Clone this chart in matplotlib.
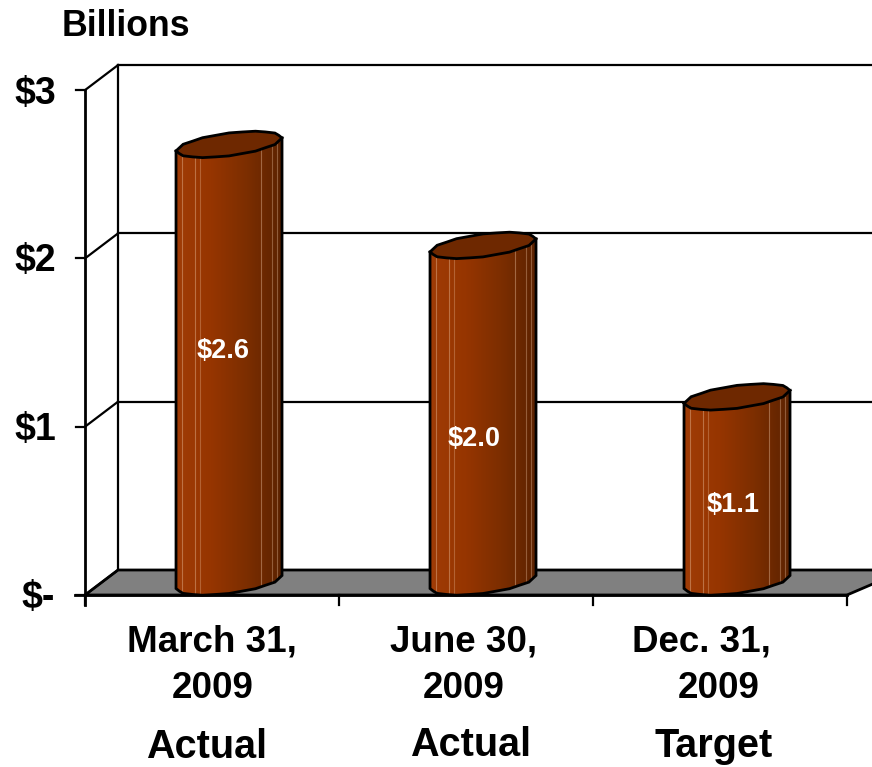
import numpy as np
import matplotlib
matplotlib.use('Agg')
import matplotlib.pyplot as plt
from matplotlib.colors import LinearSegmentedColormap
from matplotlib.patches import Polygon

plt.rcParams['font.family'] = ['Liberation Sans', 'DejaVu Sans']

# data
values = [2.6, 2.0, 1.1]
value_labels = ['$2.6', '$2.0', '$1.1']
y_ticks = [0, 1, 2, 3]
y_labels = ['$-', '$1', '$2', '$3']
x_labels = ['March 31,', 'June 30,', 'Dec. 31,']
x_years = ['2009', '2009', '2009']
x_status = ['Actual', 'Actual', 'Target']

# layout, 1 category = 254 px, 1 billion = 168 px
W, H = 872, 767
PX_X, PX_Y = 254.0, 168.3
X0, Y0 = 85, 595
DEPTH_X, DEPTH_Y = 33 / PX_X, 25 / PX_Y
BAR_POS = 0.567
BAR_HALF = 53 / PX_X
BAR_BASE = 13 / PX_Y
TILT = 6.5 / PX_Y

fig = plt.figure(figsize=(W / 100, H / 100), dpi=100)
ax = fig.add_axes([0, 0, 1, 1])
ax.set_xlim(-X0 / PX_X, (W - X0) / PX_X)
ax.set_ylim(-(H - Y0) / PX_Y, Y0 / PX_Y)
ax.axis('off')

cmap = LinearSegmentedColormap.from_list('bar', ['#a03c06', '#963500', '#7c2e00', '#5c2200'])
top_color = '#6e2800'


def rim(cx, cy, t):
    # wobbly tilted ellipse, same look as the old 3d cylinder
    wob = np.where(np.arange(len(t)) % 2 == 0, 1.0, 0.97)
    xs = cx + BAR_HALF * np.cos(t) * wob
    ys = cy + (11.5 / PX_Y) * np.sin(t) * wob + TILT * np.cos(t)
    return np.column_stack([xs, ys])


# back wall and gridlines
right = (W - X0) / PX_X
for v in y_ticks:
    back = v + DEPTH_Y
    if v > 0:
        ax.plot([DEPTH_X, right + 0.1], [back, back], color='k', lw=1.6, zorder=1)
    ax.plot([0, DEPTH_X], [v, back], color='k', lw=1.6, zorder=3)
    ax.plot([-9 / PX_X, 0], [v, v], color='k', lw=1.6, zorder=3)
ax.plot([DEPTH_X, DEPTH_X], [DEPTH_Y, 3 + DEPTH_Y], color='k', lw=1.6, zorder=1)
ax.plot([0, 0], [-10 / PX_Y, 3], color='k', lw=2, zorder=3)

# floor
floor = Polygon([[0, 0], [DEPTH_X, DEPTH_Y], [3 + DEPTH_X + 0.1, DEPTH_Y], [3.0, 0]],
                closed=True, facecolor='#808080', edgecolor='k', lw=2, zorder=2)
ax.add_patch(floor)
ax.plot([-0.04, 3.0], [0, 0], color='k', lw=2, zorder=3)
for i in range(4):
    ax.plot([i, i], [0, -10 / PX_Y], color='k', lw=1.6, zorder=3)

# bars
for i, v in enumerate(values):
    cx = i + BAR_POS
    top = BAR_BASE + v
    up = rim(cx, top, np.linspace(0, 2 * np.pi, 25)[:-1])
    low = rim(cx, BAR_BASE, np.linspace(2 * np.pi, np.pi, 13))
    body = np.vstack([[cx - BAR_HALF, top - TILT], [cx + BAR_HALF, top + TILT], low])
    # shaded side, drawn as an image clipped to the outline
    grad = np.linspace(0, 1, 256).reshape(1, -1)
    im = ax.imshow(grad, cmap=cmap, aspect='auto', zorder=4,
                   extent=[cx - BAR_HALF, cx + BAR_HALF, -0.01, top + TILT])
    outline = Polygon(body, closed=True, facecolor='none', edgecolor='k', lw=2, zorder=5)
    ax.add_patch(outline)
    im.set_clip_path(outline)
    # the thin light facet lines
    for off, a in [(-47, 0.4), (-34, 0.4), (-29, 0.3), (32, 0.4), (43, 0.35), (48, 0.35)]:
        ln, = ax.plot([cx + off / PX_X] * 2, [0, top], color='#f0c8a8', lw=0.8, alpha=a, zorder=4.5)
        ln.set_clip_path(outline)
    ax.add_patch(Polygon(up, closed=True, facecolor=top_color, edgecolor='k', lw=2, zorder=6))


def px_text(x, y, s, size, color='k', zorder=8):
    fig.text(x / W, 1 - y / H, s, fontsize=size, color=color, fontweight='bold',
             ha='center', va='center', parse_math=False, zorder=zorder)


px_text(126, 27, 'Billions', 25.7)
for s, x, y in zip(y_labels, [38, 35, 35, 35], [598, 430, 261, 94]):
    px_text(x, y, s, 27)
for s, x, y in zip(value_labels, [223, 474, 733], [351, 439, 505]):
    px_text(x, y, s, 19.5, color='white')
for s, x in zip(x_labels, [212, 464, 701]):
    px_text(x, 642, s, 26.5)
for s, x in zip(x_years, [213, 464, 719]):
    px_text(x, 689, s, 26.5)
for s, x, y in zip(x_status, [207, 471, 714], [747, 745, 746]):
    px_text(x, y, s, 28.5)

fig.savefig('out.png', dpi=100)
